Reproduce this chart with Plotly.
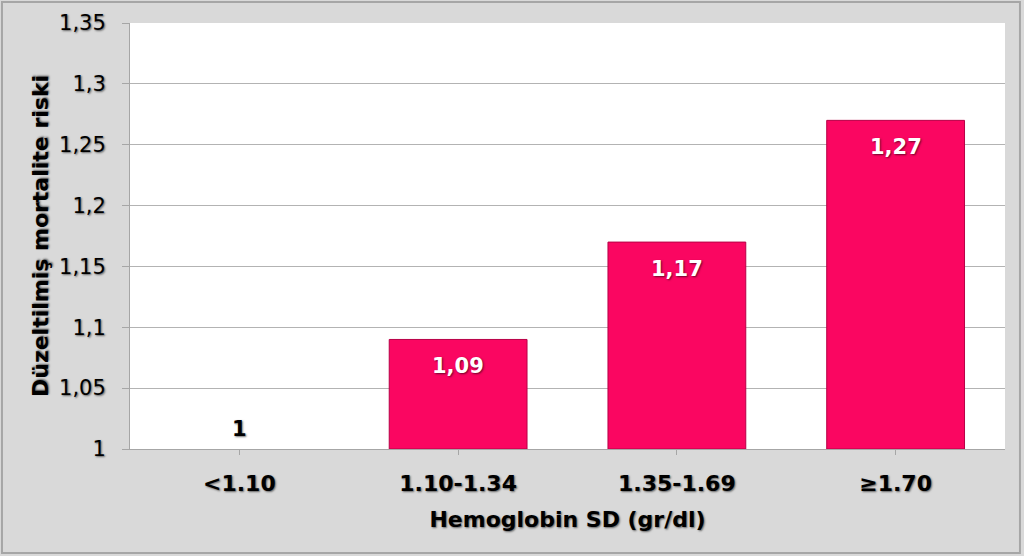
import plotly.graph_objects as go

categories = ["<1.10", "1.10-1.34", "1.35-1.69", "≥1.70"]
values = [1.0, 1.09, 1.17, 1.27]
y_ticks = [1.0, 1.05, 1.1, 1.15, 1.2, 1.25, 1.3, 1.35]
y_ticktext = ["1", "1,05", "1,1", "1,15", "1,2", "1,25", "1,3", "1,35"]
x_title = "Hemoglobin SD (gr/dl)"
y_title = "Düzeltilmiş mortalite riski"

def fmt(v):
    s = f"{v:.2f}".rstrip("0").rstrip(".")
    return s.replace(".", ",")

FONT = "DejaVu Sans"
SHADOW = "1px 1px 2px rgba(0,0,0,0.55)"

fig = go.Figure()
fig.add_trace(go.Bar(
    x=categories,
    y=[v - 1.0 for v in values],
    base=1.0,
    width=0.63,
    marker=dict(color="#fa0661",
                line=dict(color="#b80047", width=[0 if v <= 1.0 else 1 for v in values])),
    hoverinfo="skip",
))

for c, v in zip(categories, values):
    if v <= 1.0:
        fig.add_annotation(x=c, y=v, text=fmt(v), showarrow=False, yanchor="bottom", yshift=6,
                           font=dict(family=FONT, size=21, color="#000000", weight="bold", shadow=SHADOW))
    else:
        fig.add_annotation(x=c, y=v, text=fmt(v), showarrow=False, yanchor="top", yshift=-13,
                           font=dict(family=FONT, size=21, color="#ffffff", weight="bold", shadow=SHADOW))

fig.update_layout(
    width=1024, height=556,
    margin=dict(l=130, r=19, t=23, b=107),
    paper_bgcolor="#d9d9d9",
    plot_bgcolor="#ffffff",
    showlegend=False,
    shapes=[dict(type="rect", xref="paper", yref="paper", x0=-0.1463, x1=1.0171, y0=-0.2441, y1=1.0493,
                 line=dict(color="#a6a6a6", width=2), fillcolor="rgba(0,0,0,0)", layer="below")],
)
fig.update_xaxes(
    showline=True, linecolor="#a6a6a6", linewidth=1,
    ticks="outside", ticklen=5, tickcolor="#a6a6a6",
    ticklabelstandoff=10,
    tickfont=dict(family=FONT, size=22, color="#000000", weight="bold", shadow=SHADOW),
    title=dict(text=x_title, standoff=16,
               font=dict(family=FONT, size=22, color="#000000", weight="bold", shadow=SHADOW)),
)
fig.update_yaxes(
    range=[1.0, 1.35],
    tickvals=y_ticks, ticktext=y_ticktext,
    showgrid=True, gridcolor="#b3b3b3", gridwidth=1,
    showline=True, linecolor="#a6a6a6", linewidth=1,
    ticks="outside", ticklen=7, tickcolor="#a6a6a6",
    ticklabelstandoff=12,
    zeroline=False,
    tickfont=dict(family=FONT, size=21, color="#000000", shadow=SHADOW),
    title=dict(text=y_title, standoff=4,
               font=dict(family=FONT, size=22, color="#000000", weight="bold", shadow=SHADOW)),
)

fig.write_html("out.html")
